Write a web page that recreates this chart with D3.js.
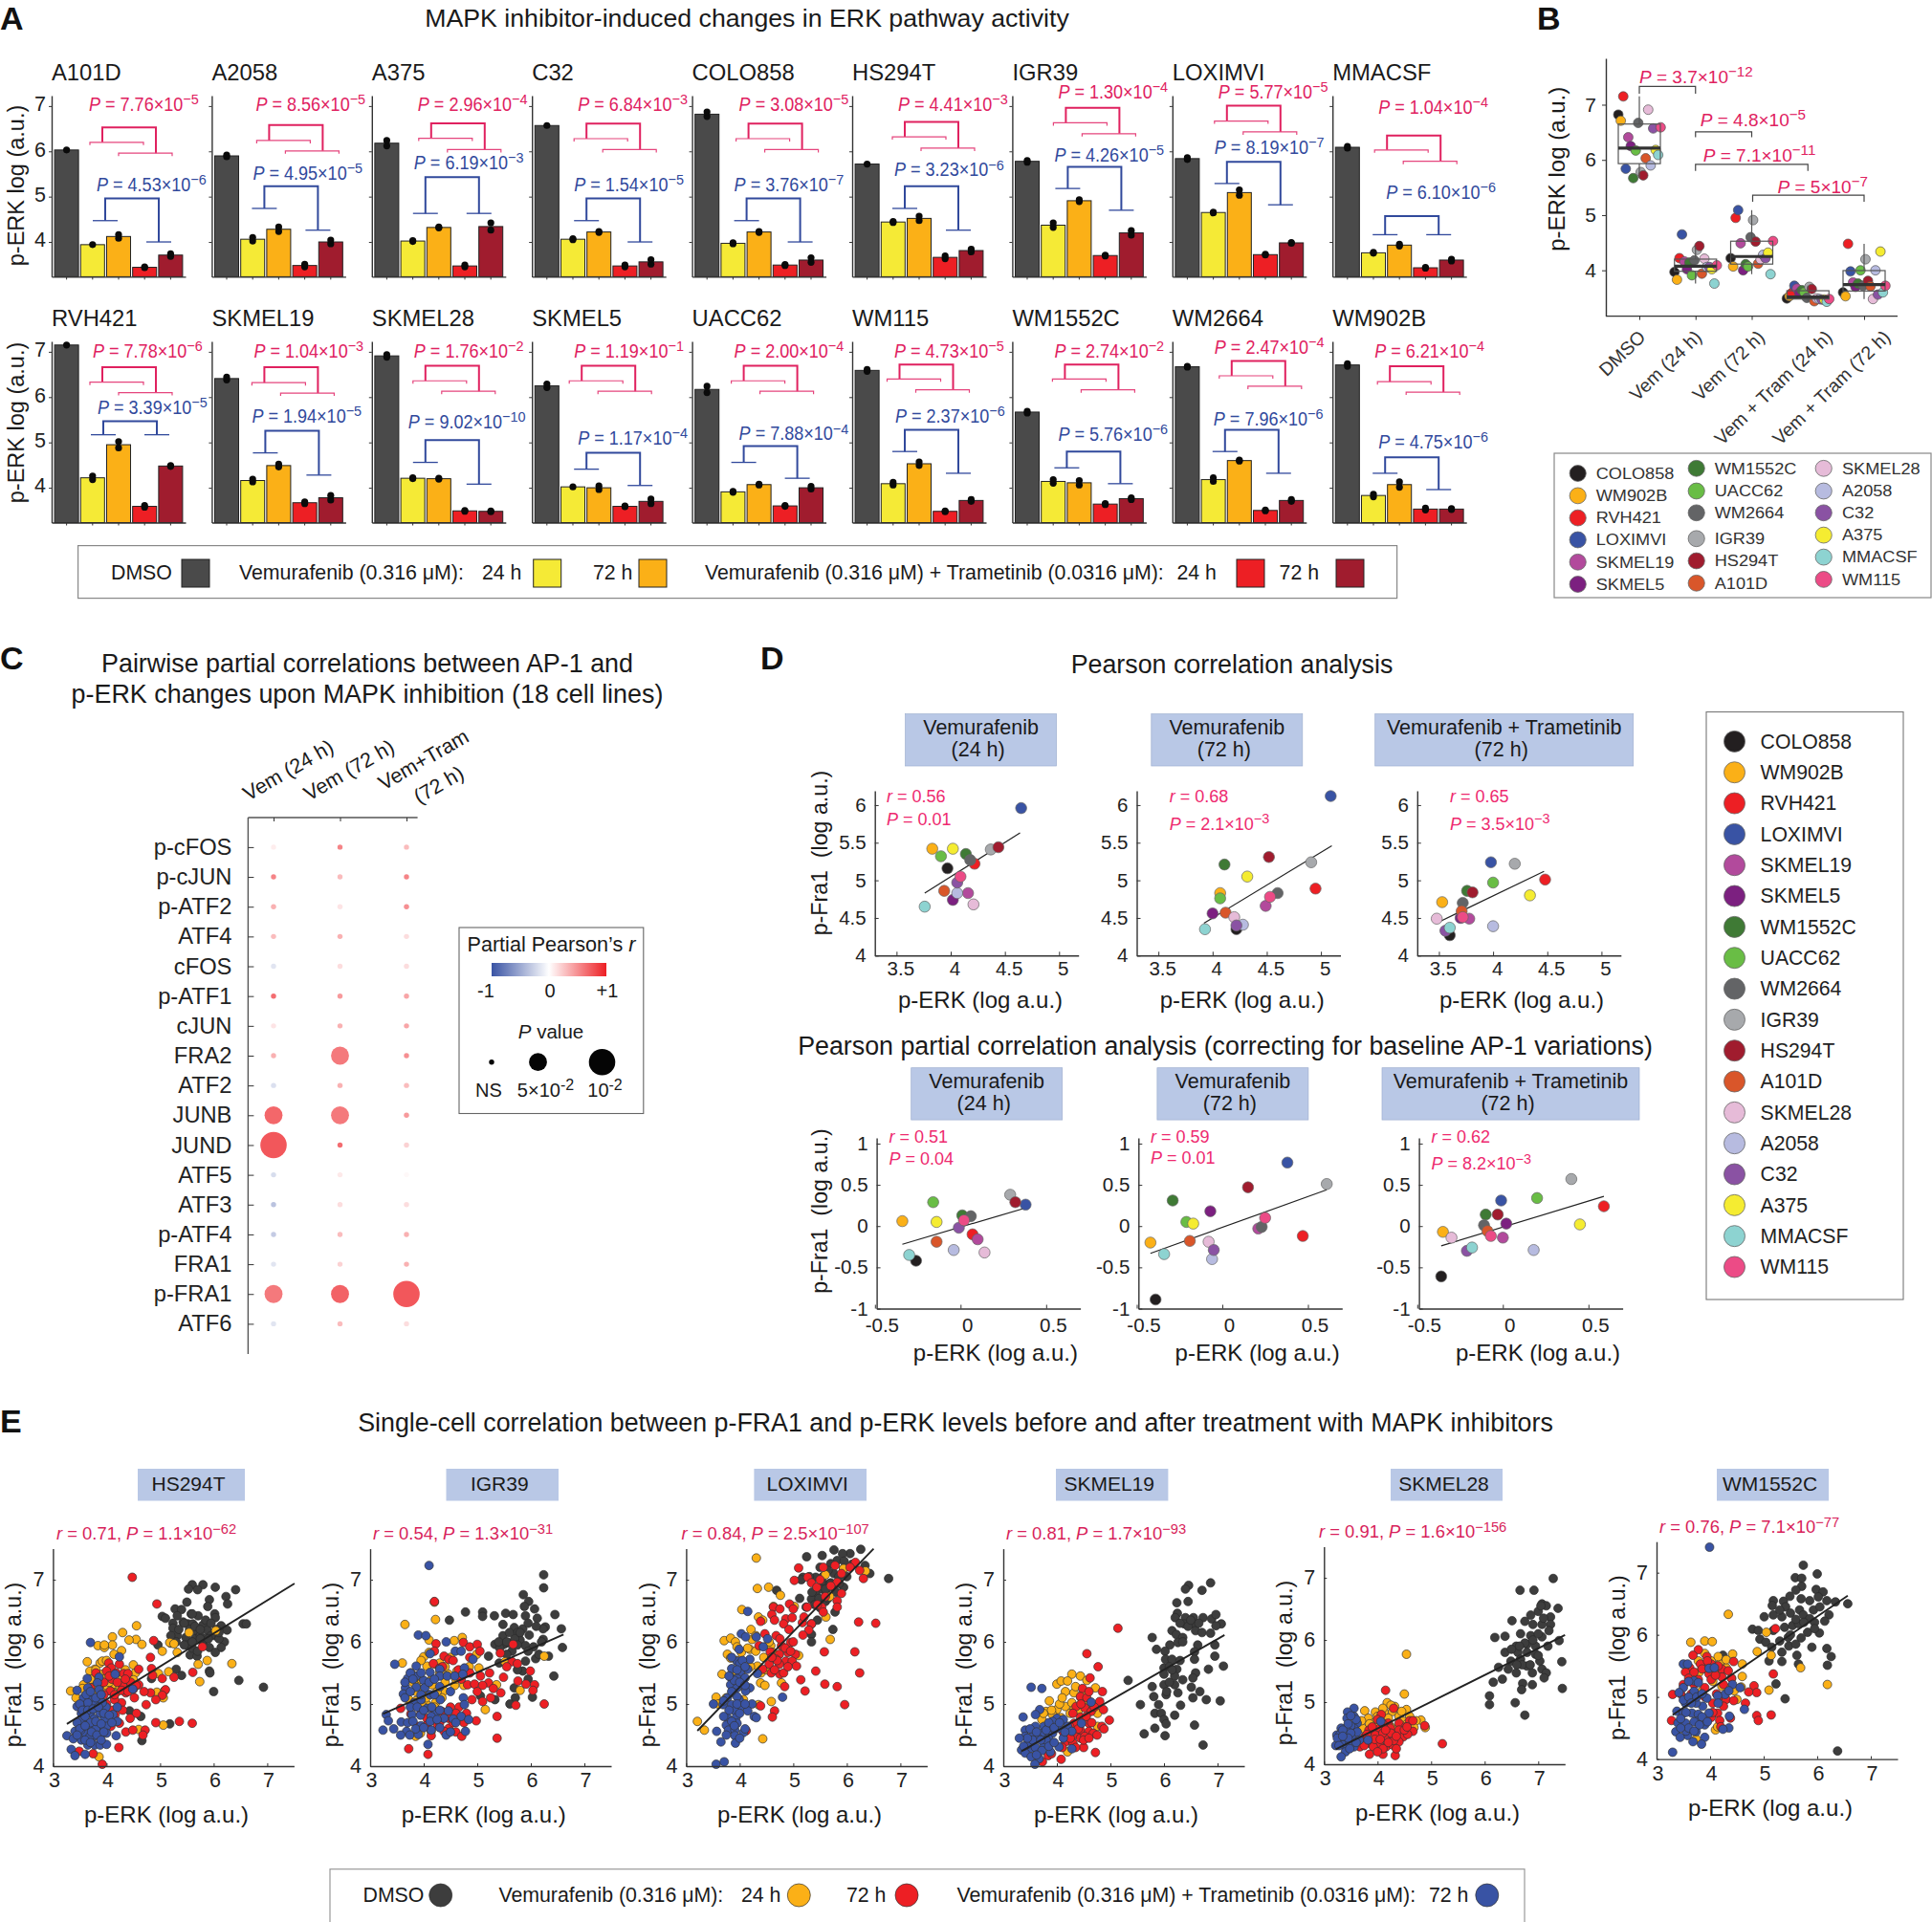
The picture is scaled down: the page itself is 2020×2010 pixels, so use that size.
<!DOCTYPE html>
<html>
<head>
<meta charset="utf-8">
<script src="https://cdn.jsdelivr.net/npm/d3@7/dist/d3.min.js"></script>
<style>
html, body { margin: 0; padding: 0; background: #fff; }
svg { display: block; }
text { white-space: pre; }
</style>
</head>
<body>
<script>
const FONT = '"Liberation Sans", Arial, sans-serif';
const PINK = '#e0215f', BLUE = '#31499c', DARK = '#1a1a1a', HEAD = '#b9c8e6';

// ---------- panel A / B data
const cellLines = ['A101D','A2058','A375','C32','COLO858','HS294T','IGR39','LOXIMVI','MMACSF','RVH421','SKMEL19','SKMEL28','SKMEL5','UACC62','WM115','WM1552C','WM2664','WM902B'];
const erkDmso = [6.03,5.90,6.18,6.57,6.82,5.72,5.78,5.84,6.09,7.15,6.41,6.91,6.25,6.17,6.59,5.67,6.67,6.71];
const erkVem24 = [3.94,4.06,4.02,4.06,3.97,4.44,4.37,4.65,3.76,4.22,4.16,4.21,4.02,3.91,4.09,4.14,4.18,3.83];
const erkVem72 = [4.12,4.28,4.32,4.22,4.22,4.52,4.91,5.09,3.93,4.95,4.49,4.20,4.00,4.07,4.53,4.11,4.60,4.07];
const erkCombo24 = [3.44,3.48,3.47,3.47,3.49,3.66,3.70,3.72,3.43,3.59,3.67,3.49,3.59,3.60,3.48,3.64,3.50,3.53];
const erkCombo72 = [3.71,4.00,4.34,3.56,3.60,3.81,4.20,3.98,3.60,4.48,3.78,3.48,3.70,4.00,3.72,3.76,3.72,3.53];
const erkSeries = [erkDmso, erkVem24, erkVem72, erkCombo24, erkCombo72];
// half distance between the two replicate dots
const spreadDmso = [0,.02,.06,0,.05,0,.02,.02,.02,0,.03,.03,.04,.07,.02,.02,.01,.03];
const spreadVem24 = [0,.04,.01,.01,.01,.01,.05,.01,.01,.04,.03,.01,0,.01,.03,.04,.04,.03];
const spreadVem72 = [.04,.05,.01,.01,.01,.05,.02,.06,.02,.07,.03,.01,.04,.01,.04,.05,.01,.06];
const spreadCombo24 = [.01,.03,.02,.02,.01,.03,.01,.01,.01,.02,.02,.01,.01,.01,.01,.01,.01,.02];
const spreadCombo72 = [.03,.04,.08,.05,.05,.03,.05,.01,.02,.01,.05,.01,.05,.03,.02,.02,.02,.01];
const spreads = [spreadDmso, spreadVem24, spreadVem72, spreadCombo24, spreadCombo72];
const condColors = ['#4a4a4a','#f5ea36','#fbb017','#ed1f24','#a01c2e'];

const pinkP = ['7.76×10^−5','8.56×10^−5','2.96×10^−4','6.84×10^−3','3.08×10^−5','4.41×10^−3','1.30×10^−4','5.77×10^−5','1.04×10^−4','7.78×10^−6','1.04×10^−3','1.76×10^−2','1.19×10^−1','2.00×10^−4','4.73×10^−5','2.74×10^−2','2.47×10^−4','6.21×10^−4'];
const blueP = ['4.53×10^−6','4.95×10^−5','6.19×10^−3','1.54×10^−5','3.76×10^−7','3.23×10^−6','4.26×10^−5','8.19×10^−7','6.10×10^−6','3.39×10^−5','1.94×10^−5','9.02×10^−10','1.17×10^−4','7.88×10^−4','2.37×10^−6','5.76×10^−6','7.96×10^−6','4.75×10^−6'];
// bracket heights, on the p-ERK scale: [label, top, left foot, right foot]
const pinkLevels = [[7.03,6.53,6.20,5.96],[7.03,6.58,6.24,6.01],[7.03,6.62,6.29,6.04],[7.03,6.61,6.28,6.04],[7.03,6.61,6.28,6.04],[7.03,6.65,6.32,6.07],[7.31,6.96,6.63,6.39],[7.31,7.01,6.67,6.43],[6.97,6.35,6.03,5.78],
  [7.02,6.66,6.33,6.10],[7.02,6.66,6.32,6.09],[7.02,6.69,6.36,6.13],[7.02,6.69,6.36,6.13],[7.02,6.69,6.36,6.13],[7.02,6.72,6.40,6.16],[7.02,6.72,6.40,6.16],[7.10,6.80,6.47,6.24],[7.02,6.68,6.34,6.11]];
const blueLevels = [[5.26,4.96,4.47,4.00],[5.51,5.23,4.74,4.26],[5.74,5.43,4.63,4.63],[5.26,4.96,4.47,4.00],[5.26,4.96,4.47,4.00],[5.59,5.23,4.74,4.26],[5.91,5.66,5.18,4.70],[6.09,5.77,5.29,4.82],[5.09,4.57,4.16,4.16],
  [5.77,5.47,5.17,5.17],[5.59,5.26,4.77,4.28],[5.45,5.05,4.56,4.08],[5.09,4.77,4.41,4.05],[5.19,4.92,4.56,4.21],[5.59,5.28,4.80,4.32],[5.17,4.80,4.44,4.09],[5.51,5.28,4.80,4.32],[5.02,4.67,4.32,3.96]];
const pinkBracketX = [53,60,62,57,59,55,56,57,57,53,55,56,52,54,49.5,55,62,60];
const pinkLabelX = [39,46,48,48,49,48,48,48,48,43,44,44,44,44,44,44,44,44];
const blueBracketX = [56,55,56,57,57,55,58,57,55,54,56,56,57,54,55,57,55,55];
const blueLabelX = [47,43,44,44,44,44,44,44,56,48,42,38,48,49,45,48,43,48];

// ---------- swarm order and colours (panels B and D)
const swarmLines = ['COLO858','WM902B','RVH421','LOXIMVI','SKMEL19','SKMEL5','WM1552C','UACC62','WM2664','IGR39','HS294T','A101D','SKMEL28','A2058','C32','A375','MMACSF','WM115'];
const swarmColors = ['#231f20','#fbb017','#ed1f24','#3953a4','#b24a9c','#7c2080','#3f7a35','#69bd45','#636466','#a7a9ac','#a01c2e','#d9562a','#e6bbd8','#b7bbe0','#8a52a3','#f5ec31','#8dd3d1','#ec4b86'];
const bGroups = ['DMSO','Vem (24 h)','Vem (72 h)','Vem + Tram (24 h)','Vem + Tram (72 h)'];
const bLabelShift = [3,3,10,22,24];
const bBrackets = [[0,1,7.33,7.2,7.5,'*P* = 3.7×10^−12',0],[1,2,6.51,6.41,6.72,'*P* = 4.8×10^−5',5],[1,3,5.92,5.8,6.08,'*P* = 7.1×10^−11',8],[2,4,5.36,5.24,5.52,'*P* = 5×10^−7',26]];

// ---------- panel C data
const apRows = ['p-cFOS','p-cJUN','p-ATF2','ATF4','cFOS','p-ATF1','cJUN','FRA2','ATF2','JUNB','JUND','ATF5','ATF3','p-ATF4','FRA1','p-FRA1','ATF6'];
const apCols = ['Vem (24 h)','Vem (72 h)','Vem+Tram (72 h)'];
const rVem24 = [.08,.55,.35,.3,-.15,.65,.12,.35,-.18,.68,.75,-.2,-.35,-.3,-.15,.6,-.15];
const rVem72 = [.55,.3,.12,.35,.15,.45,.35,.6,.35,.6,.65,.1,.15,.3,.2,.7,.3];
const rCombo72 = [.3,.55,.5,.15,.15,.4,.4,.5,.3,.45,.2,.03,.15,.35,.35,.75,.15];
const pVem24 = [.5,.5,.5,.5,.5,.5,.5,.5,.5,.05,.01,.5,.5,.5,.5,.05,.5];
const pVem72 = [.5,.5,.5,.5,.5,.5,.5,.05,.5,.05,.5,.5,.5,.5,.5,.05,.5];
const pCombo72 = [.5,.5,.5,.5,.5,.5,.5,.5,.5,.5,.5,.5,.5,.5,.5,.01,.5];

// ---------- panel D data, in swarmLines order
const fraVem24 = [5.16,5.42,5.22,5.96,4.83,4.74,5.35,5.32,5.27,5.41,5.44,4.86,4.68,4.83,4.97,5.42,4.65,5.05];
const fraVem72 = [4.35,4.83,4.89,6.12,4.66,4.56,5.21,4.76,4.83,5.24,5.31,4.57,4.51,4.41,4.40,5.05,4.35,4.78];
const fraCombo72 = [4.27,4.71,5.01,5.24,4.49,4.50,4.86,4.97,4.70,5.22,4.84,4.59,4.49,4.39,4.33,4.80,4.37,4.51];
const partialErkVem24 = [-.26,-.34,.07,.38,.10,.02,.01,-.16,.06,.29,.32,-.14,.14,-.04,-.01,-.14,-.30,.02];
const partialFraVem24 = [-.42,.06,-.10,.26,-.16,.10,.13,.29,.12,.38,.29,-.19,-.32,-.29,-.02,.05,-.35,.07];
const partialErkVem72 = [-.39,-.42,.47,.38,.21,-.07,-.29,-.21,.23,.61,.15,-.19,-.08,-.06,-.05,-.17,-.34,.25];
const partialFraVem72 = [-.89,-.20,-.12,.77,-.03,.18,.31,.05,-.01,.51,.47,-.18,-.19,-.40,-.29,.03,-.34,.10];
const partialErkCombo72 = [-.36,-.35,.59,-.01,0,.02,-.10,.20,-.11,.40,-.03,-.09,-.30,.18,-.21,.45,-.18,-.07];
const partialFraCombo72 = [-.61,-.07,.24,.31,-.14,.03,.14,.34,.01,.57,.14,-.06,-.14,-.29,-.30,.02,-.26,-.12];
const dHeaders = [['Vemurafenib','(24 h)'],['Vemurafenib','(72 h)'],['Vemurafenib + Trametinib','(72 h)']];
const dFits = [[3.76,4.83,4.64,5.63],[3.92,4.43,5.10,5.46],[3.49,4.44,4.47,5.12],[-.34,-.22,.38,.22],[-.42,-.33,.61,.44],[-.36,-.24,.59,.36]];
const dStats = [['*r* = 0.56','*P* = 0.01'],['*r* = 0.68','*P* = 2.1×10^−3'],['*r* = 0.65','*P* = 3.5×10^−3'],['*r* = 0.51','*P* = 0.04'],['*r* = 0.59','*P* = 0.01'],['*r* = 0.62','*P* = 8.2×10^−3']];

// ---------- panel E data: flat x,y lists
const hsDmso = [5.6,6.92,5.8,6.92,6.03,6.88,6.41,6.84,5.7,6.84,5.53,6.85,6.23,6.73,6.26,6.61,5.92,6.68,5.89,6.57,5.5,6.64,5.28,6.53,5.4,6.52,5.32,6.42,5.04,6.41,5.1,6.38,5.58,6.45,5.71,6.42,6.02,6.45,6.03,6.39,5.24,6.3,5.24,6.22,5.43,6.32,5.52,6.29,5.61,6.29,5.8,6.27,6.55,6.29,6.61,6.29,6.14,6.26,6.25,6.19,5.88,6.19,5.7,6.15,5.32,6.1,5.48,6.07,6.03,6.1,6.2,6,5.8,5.99,5.2,5.98,4.96,5.95,6.14,5.91,5.92,5.91,6.03,5.83,5.56,5.79,5.69,5.77,5.92,5.53,5.93,5.5,6.47,5.38,6.93,5.27,6,5.2,5.3,5.56,5.4,5.46,4.84,5.41,4.43,4.89,4.64,4.8,4.66,4.41,5.18,4.68,5.65,6.05,5.75,6.1,5.5,5.95,5.85,6.05,6.1,6.05,5.6,5.9,5.45,6.3,5.55,6.2,5.65,6.25,5.75,6.05,5.85,6.35,5.95,6.3,6.05,6.2,5.35,6.2,5.6,6.45,5.3,6,5.95,6.1,6.1,6.15,5.2,6.1,5.45,5.95,5.7,5.85,5.6,6,5.75,6.2,5.9,6.05];
const hs24 = [4.56,6.26,4.3,6.15,4.11,6.08,4.55,6.04,4.42,6.03,4.11,5.95,3.84,5.94,3.96,5.91,3.96,5.95,4.28,5.86,4.14,5.8,4.66,5.96,5.18,5.99,5.26,5.97,5.04,5.85,5.32,5.83,5.54,6.15,6.04,6.18,5.88,5.7,5.71,5.64,6.34,5.65,5.16,5.52,5.74,5.36,3.64,5.68,3.88,5.66,3.92,5.69,4.5,5.63,3.78,5.56,3.69,5.53,3.92,5.48,4.54,5.5,3.33,5.21,3.43,5.1,3.57,5.31,3.78,5.38,4.04,5.31,4.1,5.28,4.16,5.25,4.2,5.2,4.5,5.39,4.97,5.49,4.94,5.19,5.08,5.21,5.06,5.1,5.06,4.66,4.6,4.59,3.86,4.15,3.73,5.26,3.85,5.21,4.05,5.22,4.15,5.32,3.95,5.4,3.95,5.25,4,5.3,4.05,5.35,4.12,5.18,4.25,5.28,4.3,5.45,3.7,5.4,3.55,5.25,4.35,5.55,4.42,5.35,3.8,5.55,4,5.7];
const hs72 = [4.48,7.04,4.94,6.61,4.88,6.02,4.82,5.75,4.04,5.66,4.09,5.58,4.24,5.64,4.18,5.5,4.32,5.49,4.4,5.49,4.6,5.56,4.84,5.57,4.86,5.46,5.04,5.41,5.26,5.43,5.79,5.92,5.61,5.51,5.1,5.23,4.82,5.18,5.04,5.14,4.92,5.07,4.74,4.99,4.6,5.31,4.5,5.24,4.36,5.18,4.52,5.1,4.28,5.02,4.15,5.07,4.07,5.21,4.56,4.85,4.44,4.77,4.08,4.64,4.92,4.7,5.36,4.72,5.6,4.69,4.36,4.55,4.49,4.58,4.72,4.58,4.68,4.5,4.23,4.3,3.75,4.2,3.49,4.24,3.92,4.03,4,5.53,3.8,5.5,3.88,5.31,3.7,5.26,4.16,4.83,4.24,4.69,4.3,5.3,4.1,5.4,3.95,5.15,3.95,5.35,4.05,5.45,4.2,5.35,4.28,5.22,4.4,5.2,4.45,5.35,4,5,4.15,5.15,3.9,4.85,4.1,4.9,4.3,4.9,4.55,5.3,4.7,5.2,4.35,5.4];
const hsCombo = [3.7,5.99,4.24,5.76,4.16,5.48,3.64,5.41,3.86,5.43,3.83,5.34,3.45,5.22,3.65,5.26,3.86,5.23,4.49,5.24,3.68,5.16,3.57,5.1,3.73,5.07,3.45,4.96,3.6,4.96,3.78,4.99,3.99,4.95,4.2,4.95,3.53,4.85,3.7,4.85,3.88,4.85,4.12,4.83,3.96,4.75,3.77,4.76,3.57,4.69,4.2,4.72,4,4.64,3.69,4.61,3.85,4.64,3.41,4.56,3.6,4.53,3.26,4.49,3.38,4.44,3.53,4.42,3.76,4.48,3.88,4.48,4,4.53,4.18,4.49,3.65,4.34,3.78,4.34,3.88,4.34,4,4.35,3.34,4.27,3.41,4.17,3.6,4.19,3.52,4.58,3.69,4.48,3.55,4.75,3.65,5.02,3.8,4.6,3.92,5.02,3.5,5,3.55,4.9,3.65,4.9,3.75,4.92,3.85,4.95,3.95,4.85,3.6,4.8,3.7,4.7,3.8,4.72,3.9,4.68,3.45,4.7,3.5,4.6,3.6,4.65,3.72,4.55,3.82,4.5,3.95,4.55,3.45,4.5,3.6,4.42,3.7,4.38,3.9,4.42,3.62,5.15,3.7,5.2,3.8,5.1,3.9,5.15,4.05,4.82,4.1,4.7];
const igrDmso = [6.24,7.08,6.24,6.87,5.86,6.76,5.96,6.65,5.88,6.57,6.07,6.53,4.78,6.48,4.48,6.35,5.1,6.48,5.1,6.41,5.32,6.42,5.53,6.46,5.67,6.44,5.9,6.42,6.12,6.38,6.45,6.44,6.57,6.21,6.27,6.24,5.48,6.28,5.69,6.23,5.85,6.21,5.97,6.11,6.23,6.21,6.23,6.04,5.48,6.1,5.33,5.96,5.21,5.77,5.5,5.96,5.65,5.85,5.8,6.03,5.9,5.94,6.05,5.92,6.33,5.77,6.59,5.91,6.09,5.73,5.9,5.69,5.41,5.66,6.43,5.45,5.85,5.53,5.69,5.26,6.03,5.11,5.71,5.1,5.61,5,5.33,5.07,5.06,5.13,5.75,6.15,5.6,5.98,5.42,5.9,5.4,6,5.55,6,5.7,6.05,5.8,6.15,5.95,6.3,6.1,6.25,5.6,6.15,5.75,5.95,5.95,5.85,6.15,5.8,5.55,5.8,5.75,5.55,5.95,5.4,6.2,6];
const igr24 = [3.65,6.28,4.22,6.36,4.2,6.64,3.6,5.66,4.1,6.03,4.57,6.02,4.72,6.07,4,5.76,4.1,5.83,4.99,5.8,4.06,5.61,3.76,5.5,4.22,5.64,4.3,5.66,4.5,5.75,4.62,5.53,4.46,5.48,5.03,5.58,3.86,5.31,4.16,5.31,4.58,5.3,4.38,5.21,5.52,5.68,6.25,5.77,5.8,5.22,5.36,5.31,5.15,4.91,4.08,5.15,4.22,5.02,4.34,5.1,3.86,5.2,3.72,5.07,3.94,4.53,3.85,4.48,4.14,4.56,3.95,5.4,4.05,5,4.25,5.2,3.8,5.35,3.9,5.45,4,5.25,4.05,5.1,4.15,5.4,4.3,5.5,4.4,5.35,4.6,5.4,4.75,5.3,4.85,5.6,3.95,5.7,4.4,5.6,3.85,5.05,4.2,4.95,4,4.95];
const igr72 = [4.2,6.65,4.23,5.97,4.74,5.99,4.86,5.92,5,5.96,5.05,5.85,4.38,5.77,4.47,5.72,4.18,5.65,4.3,5.58,4.86,5.75,4.86,5.5,5.06,5.45,4.82,5.31,4.95,5.32,5.23,5.5,5.21,5.34,5.43,5.82,5.67,5.96,5.65,5.68,5.49,5.43,5.99,5.53,5.76,5.37,5.91,5.32,6.07,5.31,6.04,5.22,6.25,5,5.72,4.98,5.44,5.18,5.25,5.1,5.1,5.04,4.9,5.07,4.66,4.95,4.8,4.85,5.37,4.8,4.98,4.73,4.47,4.77,4.34,4.88,3.57,4.93,3.76,4.84,4.06,4.77,3.88,4.64,4.26,4.66,4.47,4.61,4.6,4.55,4.38,4.56,4.14,4.49,4.71,4.48,5.37,4.45,3.72,4.28,4.08,4.19,4.2,5.85,4.35,5.6,4.55,5.7,4.65,5.55,4.7,5.4,5.1,5.3,5.3,5.25,5,5.2,4.5,4.95,4.3,4.7,4.2,4.85,4.6,4.85,3.95,4.85,4.05,4.65,4.55,4.7,4.75,4.7,5.55,5.6,5.75,5.65];
const igrCombo = [4.1,7.23,3.9,6.11,4.04,6.1,4.42,6,4.59,5.85,4.7,5.85,4.92,5.72,4.12,5.81,3.46,5.64,3.86,5.61,4.12,5.51,4.3,5.56,4.76,5.58,3.7,5.41,3.86,5.45,4,5.38,4.3,5.45,4.44,5.45,4.58,5.45,4.73,5.48,3.66,5.26,3.86,5.27,4.02,5.26,4.3,5.28,4.5,5.2,3.62,5.16,4.12,5.15,4.74,5.1,3.82,5.02,3.95,5.07,4.31,5.07,4.76,4.99,4.06,4.93,3.78,4.83,4.22,4.85,4.46,4.89,3.3,4.83,3.94,4.82,4.14,4.8,4.38,4.77,4.7,4.8,4.84,4.75,3.34,4.73,3.58,4.71,4.12,4.72,4.55,4.76,3.24,4.58,3.44,4.6,3.68,4.56,3.57,4.5,3.74,4.5,3.9,4.51,4.14,4.58,4.42,4.5,4.78,4.56,4.08,4.35,3.65,5.35,3.75,5.5,3.8,5.4,3.95,5.5,4.1,5.35,4.2,5.4,3.65,5.1,3.75,5.2,3.95,5.15,4.2,5.15,3.75,4.95,3.88,4.95,4,4.9,4.15,4.95,4.3,4.9,3.7,4.7,3.8,4.72,3.95,4.65,4.25,4.75,4.5,4.55,3.85,4.6,4,4.62,4.6,4.7,4.3,4.62];
const loxDmso = [6.26,7.49,5.76,7.48,6.06,7.42,5.92,7.42,5.54,7.39,5.25,7.37,5.82,7.31,6.34,7.23,6.43,7.1,6.78,7.02,5.94,7.18,5.7,7.26,5.18,7.04,5.42,7.04,5.76,7.1,5.54,6.96,5.74,6.88,5.94,6.88,4.69,6.83,5.42,6.78,5.34,6.69,5.62,6.78,5.12,6.7,5.24,6.56,5.78,6.48,5.45,6.35,5.34,6.29,5.74,6.2,5.34,6.12,5.34,6,5.86,6.94,5.54,6.85,5.68,6.94,5.48,6.7,5.15,7,5.3,7.05,5.5,7.2,5.65,7.15,5.85,7.05,5.55,7.05,5.6,6.65,5.7,6.95,5.5,6.55,5.4,6.6,5.6,6.85,6,7.05,5.8,6.8,5.65,6.7,5.35,6.8,5.95,7.3,6.1,7.25];
const lox24 = [4.31,7.35,4.33,6.86,4.54,6.88,4.76,6.75,4.04,6.52,4.35,6.4,4.43,6.35,4.63,6.57,5.02,6.57,5.6,7.08,5.94,7.18,6.35,7.14,5.68,6.73,5.61,6.4,5.69,6.04,4.21,6.2,3.71,6.02,3.83,6.06,3.92,6,4.23,6.04,4.19,5.88,3.77,5.8,3.83,5.74,4.03,5.83,4.58,5.94,4.62,5.83,5.1,5.78,3.67,5.48,4.33,5.61,4.39,5.34,4.47,5.3,4.78,5.34,3.56,5.11,4.59,5.04,4.35,4.99,4.07,5.07,3.21,4.72,3.34,4.58,4.43,4.44,4.15,5.9,4.3,6.1,3.95,5.92,3.95,5.7,4.05,5.55,4.3,5.85,4.45,5.75,4.4,5.5,4.1,5.25,3.6,5,3.75,5.1,3.9,5.45,4.5,5.55,4.55,6,4.2,5.6];
const lox72 = [5.1,7.19,5.56,7.2,5.78,7.23,6.16,7.28,6.06,7.2,6.24,7.15,6.31,7.02,5.02,6.99,5.27,7.04,5.34,6.95,5.44,6.88,5.82,6.96,5.6,6.73,5.9,6.78,4.93,6.61,5.82,6.66,5.82,6.56,5.26,6.56,5.53,6.56,4.63,6.56,4.75,6.53,5,6.53,5.56,6.48,6.22,6.32,6.54,6.3,4.6,6.44,4.65,6.35,4.86,6.37,4.39,6.33,4.82,6.29,4.98,6.39,5.17,6.31,5.34,6.29,4.92,6.2,5.29,6.19,5.18,6.11,4.68,6.1,4.47,6.13,4.36,5.94,4.95,5.99,4.78,5.94,4.57,5.84,5.58,5.84,6.15,5.84,4.74,5.8,4.9,5.83,5.04,5.8,4.68,5.72,4.86,5.69,4.98,5.69,4.55,5.64,4.74,5.64,5.06,5.61,4.43,5.56,4.59,5.5,4.75,5.48,4.82,5.5,5.42,5.53,6.24,5.5,5.14,5.39,5.59,5.32,5.82,5.28,4.84,5.28,5.22,5.21,5.96,4.99,4.39,4.97,4.65,4.89,4.61,4.79,4.12,4.57,4.85,5.9,4.95,5.85,4.9,5.6,4.7,5.7,4.65,5.55,5,6,4.75,6.05,4.6,5.75,5.45,6.6,5.7,6.9,5.9,7.1,5.5,7,5.2,6.4];
const loxCombo = [4.15,6.49,4.03,6.13,4.11,6.08,4.31,6.08,4.52,6.05,4.44,5.92,3.99,5.88,3.95,5.69,4.19,5.72,3.85,5.57,4.01,5.5,4.15,5.56,4.33,5.49,3.83,5.43,3.95,5.41,4.07,5.31,3.83,5.31,4.19,5.26,3.95,5.26,3.88,5.18,4.11,5.21,4.8,5.11,3.51,5,3.77,5.1,3.99,5.07,3.69,4.99,3.85,4.99,4.02,4.96,4.23,5,3.91,4.89,4.15,4.89,3.77,4.78,3.93,4.78,4.27,4.8,4.31,4.78,3.75,4.66,3.95,4.69,3.79,4.58,3.91,4.58,3.57,4.56,4.07,4.54,3.91,4.49,3.65,4.39,3.92,4.37,3.56,4.03,3.71,4.07,4,5.65,3.9,5.38,4.1,5.42,3.95,5.12,3.85,5.75,4.05,5.7,4.1,5.6,3.95,5.55,3.8,5.45,4,5.35,4.1,5.3,3.7,5.05,3.85,5.2,3.95,5,4.1,5,3.8,4.9,4,4.85,3.7,4.8,3.85,4.72,3.9,4.65,3.75,4.5,4,4.45,4.1,4.6];
const skmel19Dmso = [6.87,6.95,6.46,6.91,6.71,6.83,6.4,6.85,6.24,6.63,6.45,6.65,6.25,6.46,6.21,6.39,6.4,6.39,6.55,6.39,6.73,6.39,6.89,6.37,6.97,6.44,7.07,6.29,6.97,6.26,6.38,6.29,6.55,6.29,6.59,6.18,6.71,6.15,6.87,6.14,6.15,6.18,6.23,6.12,5.78,6.07,6.35,6.07,6.11,5.95,6.26,5.99,5.86,5.88,6.02,5.85,6.63,5.95,6.95,5.95,6.57,5.84,6.95,5.77,6.57,5.72,7.11,5.61,6.03,5.72,6.15,5.72,6,5.58,6.24,5.56,6.83,5.56,6.59,5.5,6,5.48,6.2,5.45,5.33,5.38,6.35,5.39,6.54,5.42,5.78,5.28,6,5.31,6.2,5.31,6.51,5.27,5.81,5.12,6.04,5.15,6.26,5.18,6.67,5.2,6.54,5.1,6.79,5.07,7.05,5.05,5.56,4.99,5.9,4.99,6.31,4.98,5.83,4.85,5.95,4.85,6.2,4.82,6,4.75,6.04,4.68,6.57,4.66,5.83,4.61,5.63,4.52,6.02,4.49,6.73,4.34,6.3,6.3,6.45,6.25,6.65,6.3,6.5,6.35,6.35,6,6.1,5.6,6.1,5.35,6.15,5.55,6.3,5.7,6.05,5.2];
const skmel1924 = [4.28,5.48,4.44,5.45,4,5.32,4.08,5.37,4.2,5.37,4.56,5.38,4.72,5.26,3.86,5.05,4.16,5.2,4.32,5.18,4,4.91,4.16,4.96,4.28,5.02,3.8,4.88,3.72,4.75,3.92,4.83,4.08,4.78,4.32,4.91,4.76,4.85,4.76,4.64,4.2,4.23,4.45,5.1,4.55,5,3.9,4.9,3.95,4.65,4.05,5,4.1,5.1,4.25,4.85,4.4,4.9,4.5,5.2,4.35,5.28,4.12,4.6,3.85,4.6,3.75,4.85];
const skmel1972 = [5.14,6.22,4.56,5.81,4.77,5.6,4.62,5.42,4.85,5.2,4.48,5.25,4.44,5.12,4.56,5.1,4.8,5.04,4.36,4.96,4.87,4.91,4.52,4.94,4.64,4.88,4.98,4.74,4.44,4.79,4.32,4.69,4.6,4.69,4.84,4.64,4.24,4.64,4.44,4.58,4.6,4.56,4.88,4.6,4.32,4.5,4.44,4.45,4.68,4.53,4.16,4.39,4.3,4.37,4.5,4.3,4.72,4.22,4.08,4.11,3.84,4.17,3.73,4.07,4.52,4.48,4.2,4.48,4.12,4.55,4.3,4.85,4.4,4.6,4.55,4.8,4.65,4.7,4.7,4.95,4.25,4.45,4.35,4.3,4.5,4.42,4.6,4.45,4.75,4.5,4.45,5,4.6,5.2,4.1,4.3,3.9,4.2];
const skmel19Combo = [3.52,5.27,3.72,5.25,3.68,4.91,3.6,4.83,3.37,4.79,4.64,5.03,4,4.77,4.12,4.75,3.92,4.72,3.76,4.64,3.85,4.62,4.46,4.69,3.6,4.64,4.04,4.61,4.2,4.64,3.41,4.58,3.57,4.53,3.72,4.53,3.92,4.53,4.28,4.56,3.41,4.48,3.65,4.45,3.84,4.45,4.12,4.45,3.49,4.39,3.76,4.34,4.04,4.31,4.28,4.28,3.34,4.26,3.52,4.29,3.41,4.21,3.65,4.23,3.88,4.23,3.52,4.15,3.67,4.12,3.59,4.03,3.8,4.42,3.95,4.6,3.5,4.6,3.45,4.35,3.55,4.42,3.62,4.55,3.7,4.42,3.8,4.58,3.85,4.7,3.95,4.62,4.05,4.7,3.6,4.3,3.72,4.25,3.85,4.32,3.95,4.38,4.15,4.55,3.45,4.45,3.3,4.45,3.38,4.32,3.62,4.18];
const skmel28Dmso = [7.28,6.99,6.66,6.8,6.92,6.8,7.07,6.58,6.86,6.4,7,6.46,7.37,6.51,7.15,6.55,7.23,6.37,6.51,6.31,6.9,6.25,7.07,6.25,7.23,6.25,6.19,6.04,6.38,6.06,6.67,6.1,6.86,6.07,7.07,6.05,7.2,6.15,7.39,5.99,6.59,5.9,6.79,5.93,6.95,5.9,7.18,5.9,6.38,5.8,6.62,5.8,6.79,5.8,6.95,5.77,7.44,5.65,6.49,5.66,6.67,5.69,7.03,5.66,6.26,5.56,6.44,5.53,6.59,5.47,6.79,5.58,6.89,5.47,7.07,5.53,7.15,5.47,7.11,5.39,6.16,5.32,6.33,5.37,6.71,5.3,6.89,5.28,6.69,5.2,7.45,5.22,6.09,5.1,6.09,4.96,6.57,4.99,6.75,4.79,6.75,5.95,6.9,6,7,6.1,6.7,5.6,6.85,5.6,7,5.75,6.65,5.9,6.5,5.85,6.6,5.6,7.1,6.35,7.05,6.55,6.75,6.3];
const skmel2824 = [4.54,5.77,4.5,5.13,4.18,4.99,4.32,4.93,3.76,4.86,3.96,4.84,4.12,4.84,4.28,4.85,4.54,4.88,3.83,4.74,4,4.77,4.2,4.74,4.4,4.77,4.6,4.77,4.81,4.71,3.92,4.66,4.16,4.65,4.48,4.69,4.72,4.7,4.89,4.59,3.72,4.58,4.68,4.59,4,4.6,4.25,4.6,4.35,4.55,4.55,4.65,3.85,4.65,4.1,4.9,4.25,4.95,3.7,4.7,4.45,4.85];
const skmel2872 = [4.15,5.19,4.3,4.9,4.07,4.8,4.6,4.7,4.66,4.7,4.88,4.62,4.66,4.53,5.21,4.33,4,4.72,4.2,4.66,4.4,4.66,4.52,4.6,3.84,4.55,4.04,4.58,4.24,4.58,4.4,4.55,3.96,4.47,4.14,4.42,4.28,4.47,4.48,4.44,3.76,4.44,3.84,4.34,4.04,4.31,4.16,4.28,4.28,4.31,4.4,4.36,3.92,4.28,3.85,4.16,4.1,4.16,4.33,4.14,3.67,4.28,4.1,4.5,4.3,4.38,4.56,4.48,4.1,4.65,4.25,4.5,4.35,4.45,3.9,4.6,3.95,4.4,4.15,4.55,4.05,4.4,4.2,4.35,4.35,4.25,4.5,4.55,4.1,4.25,3.8,4.48,4.55,4.6,3.75,4.3,4,4.2];
const skmel28Combo = [3.56,4.9,3.44,4.84,3.43,4.74,3.56,4.77,3.62,4.66,3.44,4.6,3.32,4.58,3.56,4.58,4.06,4.69,3.4,4.5,3.24,4.47,3.52,4.44,3.66,4.39,3.82,4.39,3.28,4.39,3.4,4.39,3.22,4.3,3.36,4.31,3.56,4.28,3.4,4.2,3.32,4.12,3.48,4.33,3.62,4.52,3.3,4.48,3.5,4.62,3.42,4.55,3.45,4.65,3.5,4.5,3.35,4.55,3.25,4.42,3.6,4.35,3.45,4.42,3.35,4.45,3.6,4.72,3.48,4.25,3.28,4.3,3.5,4.78];
const wmDmso = [5.74,7.12,6,6.98,5.59,6.92,5.71,6.91,5.71,6.78,5.6,6.72,5.98,6.73,6.11,6.69,5.18,6.55,5.37,6.54,5.49,6.62,5.7,6.58,5.86,6.55,6.02,6.61,6.18,6.55,6.34,6.53,6.57,6.5,5.16,6.47,5.41,6.45,5.67,6.4,5.93,6.4,6.22,6.32,5.01,6.29,5.18,6.32,5.34,6.29,5.74,6.32,5.86,6.26,6.14,6.22,4.79,6.09,4.9,6.07,5.39,6.12,5.54,6.15,5.65,6.18,5.82,6.04,6.04,6.03,4.93,5.93,5.04,5.88,5.46,5.96,5.18,6.07,5.9,5.8,6.18,5.78,4.24,5.67,5.47,5.82,5.34,5.72,5.62,5.67,6.26,5.65,5.1,5.58,5.34,5.57,5.65,5.53,6.19,5.51,5.23,5.21,5.4,4.97,6.38,4.13,5.3,6.4,5.5,6.35,5.6,6.25,5.75,6.2,5.95,6.2,6.05,6.45,5.5,6,5.7,5.95,5.3,5.9,5.15,5.8,5.6,5.85,5.95,6.1];
const wm24 = [4.34,6.33,3.64,5.88,3.9,5.9,4.04,5.89,5.05,6.04,4.88,5.73,5.14,5.67,4.42,5.69,5.69,5.47,4.6,5.33,4.6,5.53,6.19,5.2,5.1,5.11,4.02,5.58,4.18,5.53,4.3,5.47,3.94,5.45,4.1,5.37,3.78,5.58,4.22,5.17,4.5,4.96,4.38,5.15,4.1,4.47,4.14,4.52,3.74,4.32,3.54,4.98,4.58,5.16,3.9,5.7,3.95,5.45,4.15,5.65,4.3,5.6,4.05,5.25,4.2,5.35,4.4,5.3,4.45,5.1,3.8,5.4,3.85,5.1];
const wm72 = [5.22,6.1,3.78,5.76,3.68,5.67,3.94,5.65,4.44,5.57,3.82,5.53,4.02,5.53,4.22,5.45,3.62,5.47,3.98,5.37,4.34,5.42,5.18,5.37,3.54,5.4,3.78,5.28,4.02,5.28,4.22,5.32,3.5,5.2,3.7,5.2,4.82,5.18,4.87,5.07,4.72,5.08,3.3,5.04,4.18,5.01,4.3,4.96,4.44,4.94,4.66,4.9,4.14,4.74,4.02,4.67,4.87,4.7,5.14,4.71,4.9,4.62,4.38,4.66,3.28,4.62,4.18,4.62,4.2,4.52,3.85,5.45,3.95,5.58,4.1,5.35,4.25,5.2,3.6,5.3,3.7,5.4,3.65,5.05,3.9,5.15,3.45,5.05,4.05,4.9,4.12,5.05,4.25,4.85,4.05,4.75,3.9,5,4.15,5.5,4.4,5.3];
const wmCombo = [3.99,7.41,3.5,5.53,3.58,5.53,3.98,5.46,4.08,5.47,3.7,5.26,3.78,5.23,4.42,5.2,4.56,5.15,4.28,5.04,4.14,5.02,4.64,4.8,3.5,5.15,3.7,5.09,3.94,4.98,3.42,5.07,3.54,4.9,3.86,4.85,3.74,4.9,4.36,4.69,3.38,4.77,3.5,4.74,3.66,4.74,3.78,4.72,3.98,4.74,3.4,4.58,3.54,4.58,3.74,4.61,3.9,4.55,3.36,4.44,3.74,4.44,4.35,4.5,4.24,4.48,3.58,4.38,3.44,4.35,3.9,4.35,3.68,4.28,3.84,4.24,3.3,4.11,3.5,4.95,3.6,5,3.75,5,3.85,5.05,3.65,4.9,3.55,4.75,3.7,4.6,3.8,4.55,3.55,4.45,3.45,4.65,3.6,4.5,3.7,4.45,3.45,4.5,3.85,4.68,3.95,4.6,4.15,4.9,4.35,5.1,3.6,5.25];
const eNames = ['HS294T','IGR39','LOXIMVI','SKMEL19','SKMEL28','WM1552C'];
const eStats = ['*r* = 0.71, *P* = 1.1×10^−62','*r* = 0.54, *P* = 1.3×10^−31','*r* = 0.84, *P* = 2.5×10^−107','*r* = 0.81, *P* = 1.7×10^−93','*r* = 0.91, *P* = 1.6×10^−156','*r* = 0.76, *P* = 7.1×10^−77'];
const eSeries = [[hsDmso,hs24,hs72,hsCombo],[igrDmso,igr24,igr72,igrCombo],[loxDmso,lox24,lox72,loxCombo],[skmel19Dmso,skmel1924,skmel1972,skmel19Combo],[skmel28Dmso,skmel2824,skmel2872,skmel28Combo],[wmDmso,wm24,wm72,wmCombo]];
const eFits = [[3.26,4.68,7.51,6.94],[3.24,4.84,6.61,6.12],[3.21,4.57,6.5,7.5],[3.34,4.24,7.13,6.11],[3.22,4.24,7.5,6.08],[3.3,4.71,6.57,6.63]];
const eColors = ['#3d3d3d','#fbb017','#ed1f24','#3953a4'];

// ---------- helpers
const svg = d3.select('body').append('svg').attr('width', 2020).attr('height', 2010).attr('font-family', FONT);

// small markup: *x* is italic, ^x is a superscript
function say(parent, str, x, y, o) {
  o = o || {};
  const size = o.size || 20;
  let tf = 'translate(' + x + ',' + y + ')';
  if (o.rotate) tf += ' rotate(' + o.rotate + ')';
  if (o.sx) tf += ' scale(' + o.sx + ',1)';
  const t = parent.append('text').attr('transform', tf).attr('y', size * 0.35)
    .attr('font-size', size).attr('fill', o.fill || DARK).attr('text-anchor', o.anchor || 'start');
  if (o.weight) t.attr('font-weight', o.weight);
  let wasUp = false;
  str.split(/(\*[^*]+\*|\^[^ ]+)/).filter(Boolean).forEach(function(seg){
    const span = t.append('tspan');
    if (seg[0] === '*') { span.attr('font-style', 'italic').text(seg.slice(1, -1)); }
    else if (seg[0] === '^') { span.attr('font-size', size * 0.8).attr('dy', -size * 0.36).text(seg.slice(1)); wasUp = true; return; }
    else span.text(seg);
    if (wasUp) { span.attr('dy', size * 0.36); wasUp = false; }
  });
  return t;
}
function styleAxis(g, size, w) {
  g.attr('font-family', FONT).attr('font-size', size);
  g.select('.domain').attr('stroke', '#333').attr('stroke-width', w || 1.4);
  g.selectAll('.tick line').attr('stroke', '#333').attr('stroke-width', 1);
  g.selectAll('.tick text').attr('fill', '#222');
  return g;
}
function pairs(flat) {
  return d3.range(0, flat.length, 2).map(function(i){ return [flat[i], flat[i + 1]]; });
}
function letter(s, x, baseline) { say(svg, s, x, baseline - 12, {size: 34, weight: 'bold', fill: '#111'}); }

// ---------- panel A
letter('A', 0, 31);
say(svg, 'MAPK inhibitor-induced changes in ERK pathway activity', 781, 19, {size: 26.7, anchor: 'middle'});

const aRows = [{base: 289.4, top: 100, title: 75.5, label: 194}, {base: 546.5, top: 357, title: 332.7, label: 442}];
const band = d3.scaleBand().domain(d3.range(5)).range([0, 140]).paddingInner(0.08).paddingOuter(0.1135);

cellLines.forEach(function(name, i){
  const row = aRows[i < 9 ? 0 : 1];
  const col = i % 9;
  const left = 54 + 167.4 * col;
  const y = d3.scaleLinear().domain([3.232, 7.23]).range([row.base, row.top]);
  const g = svg.append('g').attr('transform', 'translate(' + left + ',0)');

  say(g, name, 0, row.title, {size: 23.8});

  g.selectAll('rect.bar').data(erkSeries.map(function(s){ return s[i]; })).join('rect').attr('class', 'bar')
    .attr('x', function(d, k){ return band(k); }).attr('width', band.bandwidth())
    .attr('y', function(d){ return y(d); }).attr('height', function(d){ return row.base - y(d); })
    .attr('fill', function(d, k){ return condColors[k]; }).attr('stroke', '#222').attr('stroke-width', 1);

  const dots = [];
  erkSeries.forEach(function(s, k){
    dots.push({k: k, v: s[i] - spreads[k][i]});
    if (spreads[k][i] > 0) dots.push({k: k, v: s[i] + spreads[k][i]});
  });
  g.selectAll('circle').data(dots).join('circle')
    .attr('cx', function(d){ return band(d.k) + band.bandwidth() / 2; }).attr('cy', function(d){ return y(d.v); })
    .attr('r', 3.6).attr('fill', '#0a0a0a');

  const ax = g.append('g').attr('transform', 'translate(0,' + row.base + ')').call(d3.axisBottom(band).tickSize(3).tickSizeOuter(0).tickFormat(''));
  styleAxis(ax, 10);
  const ay = g.append('g').call(d3.axisLeft(y).tickValues([4, 5, 6, 7]).tickSize(3).tickSizeOuter(0).tickPadding(3).tickFormat(col === 0 ? d3.format('d') : ''));
  styleAxis(ay, 21.5).selectAll('.tick text').attr('dy', '0.22em');

  // pink and blue P value brackets
  const pl = pinkLevels[i], px = pinkBracketX[i];
  const bracket = function(color, pts, w){
    g.append('path').attr('d', d3.line()(pts)).attr('fill', 'none').attr('stroke', color).attr('stroke-width', w);
  };
  say(g, '*P* = ' + pinkP[i], pinkLabelX[i], y(pl[0]), {size: 19.4, fill: PINK, sx: 0.93});
  bracket(PINK, [[px, y(pl[2])], [px, y(pl[1])], [px + 56, y(pl[1])], [px + 56, y(pl[3])]], 2);
  bracket('#e5457d', [[px - 13, y(pl[2]) + 3], [px - 13, y(pl[2])], [px + 43, y(pl[2])], [px + 43, y(pl[2]) + 3]], 1.2);
  bracket('#e5457d', [[px + 17, y(pl[3]) + 3], [px + 17, y(pl[3])], [px + 73, y(pl[3])], [px + 73, y(pl[3]) + 3]], 1.2);

  const bl = blueLevels[i], bx = blueBracketX[i];
  say(g, '*P* = ' + blueP[i], blueLabelX[i], y(bl[0]), {size: 19.4, fill: BLUE, sx: 0.93});
  bracket(BLUE, [[bx, y(bl[2])], [bx, y(bl[1])], [bx + 56, y(bl[1])], [bx + 56, y(bl[3])]], 2);
  bracket(BLUE, [[bx - 13, y(bl[2])], [bx + 13, y(bl[2])]], 1.3);
  bracket(BLUE, [[bx + 43, y(bl[3])], [bx + 69, y(bl[3])]], 1.3);
});
say(svg, 'p-ERK log (a.u.)', 16.3, aRows[0].label, {size: 23.5, rotate: -90, anchor: 'middle'});
say(svg, 'p-ERK log (a.u.)', 16.3, aRows[1].label, {size: 23.5, rotate: -90, anchor: 'middle'});

// legend of panel A
svg.append('rect').attr('x', 81.6).attr('y', 570.6).attr('width', 1379).attr('height', 55).attr('fill', 'none').attr('stroke', '#888').attr('stroke-width', 1.2);
const aLegendText = [['DMSO', 116], ['Vemurafenib (0.316 μM):', 250], ['24 h', 504], ['72 h', 620], ['Vemurafenib (0.316 μM) + Trametinib (0.0316 μM):', 737], ['24 h', 1230.5], ['72 h', 1337.6]];
aLegendText.forEach(function(d){ say(svg, d[0], d[1], 598.8, {size: 21.3}); });
[190, 557.7, 668, 1293, 1397].forEach(function(x, k){
  svg.append('rect').attr('x', x).attr('y', 585).attr('width', 29).attr('height', 29).attr('fill', condColors[k]).attr('stroke', '#222').attr('stroke-width', 1);
});

// ---------- panel B
letter('B', 1607, 31);
const lineIndex = function(n){ return cellLines.indexOf(n); };
const bx = d3.scalePoint().domain(bGroups).range([1714, 1949]);
const by = d3.scaleLinear().domain([3.17, 7.84]).range([330.6, 61]);
const jitter = d3.scalePoint().domain(swarmLines).range([-22, 22.3]);
const gB = svg.append('g');
bGroups.forEach(function(group, k){
  const vals = swarmLines.map(function(n){ return erkSeries[k][lineIndex(n)]; });
  gB.append('g').selectAll('circle').data(swarmLines).join('circle')
    .attr('cx', function(n){ return bx(group) + jitter(n); })
    .attr('cy', function(n, j){ return by(vals[j]); })
    .attr('r', 5).attr('fill', function(n, j){ return swarmColors[j]; })
    .attr('stroke', '#555').attr('stroke-width', 0.7);
  const sorted = vals.slice().sort(d3.ascending);
  const q1 = d3.quantile(sorted, .25), q2 = d3.quantile(sorted, .5), q3 = d3.quantile(sorted, .75);
  const iqr = q3 - q1;
  const hi = d3.max(sorted.filter(function(v){ return v <= q3 + 1.5 * iqr; }));
  const lo = d3.min(sorted.filter(function(v){ return v >= q1 - 1.5 * iqr; }));
  const c = bx(group);
  gB.append('rect').attr('x', c - 22).attr('width', 44).attr('y', by(q3)).attr('height', by(q1) - by(q3))
    .attr('fill', 'none').attr('stroke', '#555').attr('stroke-width', 1.2);
  gB.append('path').attr('d', d3.line()([[c, by(hi)], [c, by(q3)]])).attr('stroke', '#555').attr('stroke-width', 1.2);
  gB.append('path').attr('d', d3.line()([[c, by(q1)], [c, by(lo)]])).attr('stroke', '#555').attr('stroke-width', 1.2);
  gB.append('path').attr('d', d3.line()([[c - 22, by(q2)], [c + 22, by(q2)]])).attr('stroke', '#333').attr('stroke-width', 3.2);
});
const bAxX = gB.append('g').attr('transform', 'translate(0,330.6)').call(d3.axisBottom(bx).tickSize(4).tickSizeOuter(0).tickFormat(''));
styleAxis(bAxX, 10).select('.domain').attr('d', 'M1679,0H1984');
const bAxY = gB.append('g').attr('transform', 'translate(1679,0)').call(d3.axisLeft(by).tickValues([4, 5, 6, 7]).tickSize(4).tickSizeOuter(0).tickPadding(6).tickFormat(d3.format('d')));
styleAxis(bAxY, 21);
bGroups.forEach(function(group, k){
  say(gB, group, bx(group) + bLabelShift[k], 349, {size: 19.5, rotate: -44, anchor: 'end', fill: '#333'});
});
say(gB, 'p-ERK log (a.u.)', 1628, 176.8, {size: 24, rotate: -90, anchor: 'middle'});
bBrackets.forEach(function(b){
  const x0 = bx(bGroups[b[0]]) + (b[0] === 2 ? 1 : 0), x1 = bx(bGroups[b[1]]);
  gB.append('path').attr('d', d3.line()([[x0, by(b[3])], [x0, by(b[2])], [x1, by(b[2])], [x1, by(b[3])]]))
    .attr('fill', 'none').attr('stroke', '#444').attr('stroke-width', 1.2);
  say(gB, b[5], x0 + b[6], by(b[4]), {size: 19, fill: PINK});
});
svg.append('rect').attr('x', 1625).attr('y', 474).attr('width', 394).attr('height', 151).attr('fill', 'none').attr('stroke', '#888').attr('stroke-width', 1.2);
// legend: three columns of six
const bLegendCols = [{cx: 1649.7, tx: 1668.7, ys: [495, 518.4, 541.6, 564.5, 587.8, 611]},
  {cx: 1773.7, tx: 1792.7, ys: [489.8, 513.5, 536.3, 563.3, 586.5, 609.8]},
  {cx: 1906.7, tx: 1926, ys: [489.8, 513.5, 536.3, 559.6, 582.6, 605.9]}];
swarmLines.forEach(function(n, i){
  const c = bLegendCols[Math.floor(i / 6)], yy = c.ys[i % 6];
  svg.append('ellipse').attr('cx', c.cx).attr('cy', yy).attr('rx', 8.6).attr('ry', 8.4).attr('fill', swarmColors[i]).attr('stroke', '#666').attr('stroke-width', 0.8);
  say(svg, n, c.tx, yy, {size: 16.5, sx: 1.1, fill: '#333'});
});

// ---------- panel C
letter('C', 0, 700);
say(svg, 'Pairwise partial correlations between AP-1 and', 384, 693.8, {size: 26.9, anchor: 'middle'});
say(svg, 'p-ERK changes upon MAPK inhibition (18 cell lines)', 384, 726, {size: 26.9, anchor: 'middle'});
const corrColor = d3.scaleLinear().domain([-1, 0, 1]).range(['#3953a4', '#ffffff', '#ed1f24']);
const pSize = d3.scaleLinear().domain([0.3, 1.3, 2]).range([2.7, 9.4, 13.8]);
const cx = d3.scalePoint().domain(apCols).range([286, 425]);
const cy = d3.scalePoint().domain(apRows).range([885.9, 1384.4]);
const gC = svg.append('g');
[[rVem24, pVem24], [rVem72, pVem72], [rCombo72, pCombo72]].forEach(function(col, c){
  gC.append('g').selectAll('circle').data(apRows).join('circle')
    .attr('cx', cx(apCols[c])).attr('cy', function(d){ return cy(d); })
    .attr('r', function(d, i){ return pSize(-Math.log10(col[1][i])); })
    .attr('fill', function(d, i){ return corrColor(col[0][i]); });
});
const cAxY = gC.append('g').attr('transform', 'translate(259.4,0)').call(d3.axisLeft(cy).tickSize(-6).tickSizeOuter(0).tickPadding(17));
styleAxis(cAxY, 23.7).select('.domain').attr('d', 'M0,855V1416').attr('stroke', '#555');
const cAxX = gC.append('g').attr('transform', 'translate(0,855)').call(d3.axisTop(cx).tickSize(-4).tickSizeOuter(0).tickFormat(''));
styleAxis(cAxX, 10).select('.domain').attr('d', 'M259.4,0H436.6').attr('stroke', '#555');
[['Vem (24 h)', 259.5, 838], ['Vem (72 h)', 323, 838], ['Vem+Tram', 401, 827], ['(72 h)', 438, 841]].forEach(function(d){
  const t = say(gC, d[0], d[1], d[2], {size: 21.5, rotate: -30});
  t.attr('y', 0);
});
// legend of panel C
const grad = svg.append('defs').append('linearGradient').attr('id', 'corrGrad');
[[0, '#3953a4'], [.5, '#ffffff'], [1, '#ed1f24']].forEach(function(s){ grad.append('stop').attr('offset', s[0]).attr('stop-color', s[1]); });
gC.append('rect').attr('x', 480).attr('y', 970).attr('width', 192.8).attr('height', 194.5).attr('fill', 'none').attr('stroke', '#666').attr('stroke-width', 1.1);
say(gC, "Partial Pearson’s *r*", 576.5, 987, {size: 21.6, anchor: 'middle'});
gC.append('rect').attr('x', 514).attr('y', 1007).attr('width', 120).attr('height', 14).attr('fill', 'url(#corrGrad)');
[['-1', 508], ['0', 575], ['+1', 635]].forEach(function(d){ say(gC, d[0], d[1], 1036, {size: 20, anchor: 'middle'}); });
say(gC, '*P* value', 576, 1079, {size: 20.5, anchor: 'middle'});
[[0.5, 514], [0.05, 562.5], [0.01, 629.5]].forEach(function(d){
  gC.append('circle').attr('cx', d[1]).attr('cy', 1110.7).attr('r', pSize(-Math.log10(d[0]))).attr('fill', '#050505');
});
[['NS', 511], ['5×10^-2', 570.5], ['10^-2', 632.5]].forEach(function(d){ say(gC, d[0], d[1], 1140, {size: 20, anchor: 'middle'}); });

// ---------- panel D
letter('D', 795, 700);
say(svg, 'Pearson correlation analysis', 1288, 694.8, {size: 26.8, anchor: 'middle'});
say(svg, 'Pearson partial correlation analysis (correcting for baseline AP-1 variations)', 1281, 1093.8, {size: 26.8, anchor: 'middle'});
const erkOf = function(series){ return swarmLines.map(function(n){ return series[lineIndex(n)]; }); };
const dPlots = [
  {xs: erkOf(erkVem24), ys: fraVem24, left: 914.7, head: [946.6, 158, 746.6], lab: 1025},
  {xs: erkOf(erkVem72), ys: fraVem72, left: 1188.5, head: [1203.8, 158, 746.6], lab: 1298.7},
  {xs: erkOf(erkCombo72), ys: fraCombo72, left: 1481.8, head: [1437.7, 270, 746.6], lab: 1591},
  {xs: partialErkVem24, ys: partialFraVem24, left: 916.6, head: [952.7, 158, 1116.7], lab: 1040.9, partial: true},
  {xs: partialErkVem72, ys: partialFraVem72, left: 1190.3, head: [1209.9, 158, 1116.7], lab: 1314.6, partial: true},
  {xs: partialErkCombo72, ys: partialFraCombo72, left: 1483.6, head: [1445, 269, 1116.7], lab: 1608, partial: true}
];
const dStatPos = [[927, 833, 856.5], [1222.7, 833, 861.5], [1516, 833, 861.5], [929.4, 1189, 1212], [1203, 1189, 1211], [1496.5, 1189, 1217]];
dPlots.forEach(function(p, i){
  const g = svg.append('g');
  const w = 213;
  const x = p.partial ? d3.scaleLinear().domain([-.49, .70]).range([p.left, p.left + w])
                      : d3.scaleLinear().domain([3.3, 5.18]).range([p.left, p.left + w]);
  const y = p.partial ? d3.scaleLinear().domain([-1, 1.07]).range([1368.5, 1189.9])
                      : d3.scaleLinear().domain([4, 6.19]).range([999.3, 827]);
  const base = y.range()[0];
  g.append('rect').attr('x', p.head[0]).attr('y', p.head[2]).attr('width', p.head[1]).attr('height', 54.4).attr('fill', HEAD).attr('stroke', '#9fb0d0').attr('stroke-width', 0.7);
  const hx = p.head[0] + p.head[1] / 2;
  say(g, dHeaders[i % 3][0], hx, p.head[2] + 14, {size: 21.5, anchor: 'middle'});
  say(g, dHeaders[i % 3][1], hx - 3, p.head[2] + 37, {size: 21.5, anchor: 'middle'});
  const ax = g.append('g').attr('transform', 'translate(0,' + base + ')')
    .call(d3.axisBottom(x).tickValues(p.partial ? [-.5, 0, .5] : [3.5, 4, 4.5, 5]).tickSize(-4).tickSizeOuter(0).tickPadding(p.partial ? 10 : 6).tickFormat(String));
  styleAxis(ax, 20.5).selectAll('.tick text').attr('dx', p.partial ? 7 : 4);
  const ay = g.append('g').attr('transform', 'translate(' + p.left + ',0)')
    .call(d3.axisLeft(y).tickValues(p.partial ? [-1, -.5, 0, .5, 1] : [4, 4.5, 5, 5.5, 6]).tickSize(-4).tickSizeOuter(0).tickPadding(9).tickFormat(String));
  styleAxis(ay, 20.5);
  const f = dFits[i];
  g.append('path').attr('d', d3.line()([[x(f[0]), y(f[1])], [x(f[2]), y(f[3])]])).attr('stroke', '#222').attr('stroke-width', 1.2);
  g.selectAll('circle').data(swarmLines).join('circle')
    .attr('cx', function(d, j){ return x(p.xs[j]); }).attr('cy', function(d, j){ return y(p.ys[j]); })
    .attr('r', 5.8).attr('fill', function(d, j){ return swarmColors[j]; }).attr('stroke', '#666').attr('stroke-width', 0.7);
  const sp = dStatPos[i];
  say(g, dStats[i][0], sp[0], sp[1], {size: 18, fill: '#ee2a6f'});
  say(g, dStats[i][1], sp[0], sp[2], {size: 18, fill: '#ee2a6f'});
  say(g, 'p-ERK (log a.u.)', p.lab, p.partial ? 1415 : 1045.6, {size: 24, anchor: 'middle'});
});
say(svg, 'p-Fra1  (log a.u.)', 856.5, 892, {size: 23.2, rotate: -90, anchor: 'middle'});
say(svg, 'p-Fra1  (log a.u.)', 856.5, 1266.5, {size: 23.2, rotate: -90, anchor: 'middle'});
svg.append('rect').attr('x', 1784).attr('y', 744.5).attr('width', 206).attr('height', 614.5).attr('fill', 'none').attr('stroke', '#777').attr('stroke-width', 1.1);
const dLegY = d3.scalePoint().domain(swarmLines).range([775.4, 1325]);
swarmLines.forEach(function(n, i){
  svg.append('circle').attr('cx', 1813.5).attr('cy', dLegY(n)).attr('r', 11).attr('fill', swarmColors[i]).attr('stroke', '#666').attr('stroke-width', 0.8);
  say(svg, n, 1840.6, dLegY(n), {size: 21.2, fill: '#222'});
});

// ---------- panel E
letter('E', 0, 1498);
say(svg, 'Single-cell correlation between p-FRA1 and p-ERK levels before and after treatment with MAPK inhibitors', 999, 1487.4, {size: 26.8, anchor: 'middle'});
const eLayout = [
  {left: 55.4, head: 144, headW: 112, stat: 59, statY: 1604, base: 1847, lab: 174, yl: 13.4},
  {left: 387, head: 466.5, headW: 117.5, stat: 390, statY: 1604, base: 1847, lab: 505.8, yl: 346},
  {left: 717.4, head: 788.4, headW: 117.6, stat: 712.5, statY: 1604, base: 1847, lab: 836, yl: 677},
  {left: 1049, head: 1104, headW: 117.4, stat: 1052, statY: 1604, base: 1847, lab: 1167, yl: 1008},
  {left: 1384.3, head: 1454, headW: 117, stat: 1379, statY: 1602, base: 1845, lab: 1503, yl: 1343},
  {left: 1732, head: 1795, headW: 117, stat: 1735, statY: 1597, base: 1839.6, lab: 1851, yl: 1690.5}
];
eNames.forEach(function(name, i){
  const L = eLayout[i];
  const g = svg.append('g');
  const x = d3.scaleLinear().domain([3, 7.5]).range([L.left, L.left + 252]);
  const y = d3.scaleLinear().domain([4, 7.5]).range([L.base, L.base - 227.4]);
  g.append('rect').attr('x', L.head).attr('y', 1536).attr('width', L.headW).attr('height', 33.5).attr('fill', HEAD);
  say(g, name, L.head + L.headW / 2 - 3, 1552, {size: 21, anchor: 'middle'});
  say(g, eStats[i], L.stat, L.statY, {size: 18.4, fill: '#d81f5b'});
  eSeries[i].forEach(function(flat, k){
    g.append('g').selectAll('circle').data(pairs(flat)).join('circle')
      .attr('cx', function(d){ return x(d[0]); }).attr('cy', function(d){ return y(d[1]); })
      .attr('r', 4.5).attr('fill', eColors[k]).attr('stroke', k === 0 ? '#2a2a2a' : '#333').attr('stroke-width', 0.7);
  });
  const f = eFits[i];
  g.append('path').attr('d', d3.line()([[x(f[0]), y(f[1])], [x(f[2]), y(f[3])]])).attr('stroke', '#222').attr('stroke-width', 1.9);
  const ax = g.append('g').attr('transform', 'translate(0,' + L.base + ')')
    .call(d3.axisBottom(x).tickValues([3, 4, 5, 6, 7]).tickSize(-3).tickSizeOuter(0).tickPadding(7).tickFormat(d3.format('d')));
  styleAxis(ax, 21.5).selectAll('.tick text').attr('dx', 1);
  const ay = g.append('g').attr('transform', 'translate(' + L.left + ',0)')
    .call(d3.axisLeft(y).tickValues([4, 5, 6, 7]).tickSize(-3).tickSizeOuter(0).tickPadding(9).tickFormat(d3.format('d')));
  styleAxis(ay, 21.5);
  say(g, 'p-ERK (log a.u.)', L.lab, L.base + 51, {size: 24, anchor: 'middle'});
  say(g, 'p-Fra1  (log a.u.)', L.yl, L.base - 106, {size: 23.2, rotate: -90, anchor: 'middle'});
});
svg.append('rect').attr('x', 345).attr('y', 1954.7).attr('width', 1249).attr('height', 60).attr('fill', 'none').attr('stroke', '#999').attr('stroke-width', 1.2);
[['DMSO', 379.5], ['Vemurafenib (0.316 μM):', 521.4], ['24 h', 775], ['72 h', 885], ['Vemurafenib (0.316 μM) + Trametinib (0.0316 μM):', 1000.4], ['72 h', 1494]].forEach(function(d){
  say(svg, d[0], d[1], 1981.8, {size: 21.3});
});
[460.7, 835.3, 948, 1554.8].forEach(function(x, k){
  svg.append('circle').attr('cx', x).attr('cy', 1982).attr('r', 12).attr('fill', eColors[k]).attr('stroke', '#333').attr('stroke-width', 0.7);
});
</script>
</body>
</html>
